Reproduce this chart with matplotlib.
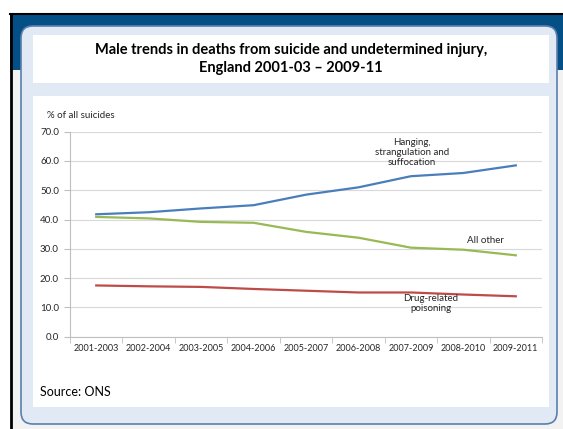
import matplotlib.pyplot as plt
from matplotlib.patches import Rectangle, FancyBboxPatch

plt.rcParams['font.family'] = ['Lato', 'DejaVu Sans']

periods = ["2001-2003", "2002-2004", "2003-2005", "2004-2006", "2005-2007",
           "2006-2008", "2007-2009", "2008-2010", "2009-2011"]
hanging = [41.8, 42.5, 43.8, 44.9, 48.5, 51.0, 54.8, 55.9, 58.5]
all_other = [40.9, 40.4, 39.2, 38.9, 35.8, 33.8, 30.4, 29.7, 27.8]
drug = [17.5, 17.2, 17.0, 16.3, 15.7, 15.1, 15.1, 14.4, 13.8]

W, H = 563, 429
fig = plt.figure(figsize=(W / 100, H / 100), dpi=100)

# background slide decoration, drawn in pixel coords
bg = fig.add_axes([0, 0, 1, 1])
bg.set_xlim(0, W)
bg.set_ylim(H, 0)
bg.axis("off")
bg.add_patch(Rectangle((10, 14), W - 10, H - 14, facecolor="#f2f2f2", edgecolor="none"))
bg.add_patch(Rectangle((10, 14), W - 10, 56, facecolor="#034f86", edgecolor="none"))
bg.plot([10, W], [14, 14], color="black", lw=1.5)
bg.plot([11, 11], [14, H], color="black", lw=2)
bg.add_patch(FancyBboxPatch((31, 36), 516, 378, boxstyle="round,pad=10,rounding_size=12",
                            facecolor="#e1e9f4", edgecolor="#5b7fae", lw=1.2))
bg.add_patch(Rectangle((33, 35), 516, 48, facecolor="white", edgecolor="none"))
bg.add_patch(Rectangle((33, 96), 516, 311, facecolor="white", edgecolor="none"))

bg.text(291, 59, "Male trends in deaths from suicide and undetermined injury,\nEngland 2001-03 \u2013 2009-11",
        ha="center", va="center", fontsize=10.5, fontweight="bold", linespacing=1.3)
bg.text(47, 116, "% of all suicides", fontsize=7, va="center", color="#262626")
bg.text(40, 392, "Source: ONS", fontsize=9, va="center", color="black")

# chart area: x 70..542, y 131.7..336.7 px
ax = fig.add_axes([70 / W, 1 - 336.7 / H, 472 / W, 205 / H])
x = list(range(len(periods)))
ax.plot(x, hanging, color="#4a7ebb", lw=1.6)
ax.plot(x, all_other, color="#98b954", lw=1.6)
ax.plot(x, drug, color="#be4b48", lw=1.6)

ax.set_xlim(-0.5, len(periods) - 0.5)
ax.set_ylim(0, 70)
ax.set_yticks(range(0, 71, 10))
ax.set_yticklabels([f"{v:.1f}" for v in range(0, 71, 10)], fontsize=7, color="#262626")
ax.yaxis.grid(True, color="#d9d9d9", lw=0.8)
ax.set_axisbelow(True)

ax.set_xticks(x)
ax.set_xticklabels(periods, fontsize=6.5, color="#262626")
ax.tick_params(axis="x", length=0, pad=5)
ax.set_xticks([i - 0.5 for i in range(len(periods) + 1)], minor=True)
ax.tick_params(axis="x", which="minor", length=4, color="#bfbfbf", direction="out")
ax.tick_params(axis="y", length=4, color="#bfbfbf", pad=4)

for s in ["top", "right"]:
    ax.spines[s].set_visible(False)
ax.spines["left"].set_color("#bfbfbf")
ax.spines["bottom"].set_color("#bfbfbf")

ax.text(6.02, 63.0, "Hanging,\nstrangulation and\nsuffocation", ha="center", va="center",
        fontsize=7, color="#262626", linespacing=1.15)
ax.text(7.43, 33.0, "All other", ha="center", va="center", fontsize=7, color="#262626")
ax.text(6.38, 11.3, "Drug-related\npoisoning", ha="center", va="center",
        fontsize=7, color="#262626", linespacing=1.15)

fig.savefig("out.png", dpi=100)
